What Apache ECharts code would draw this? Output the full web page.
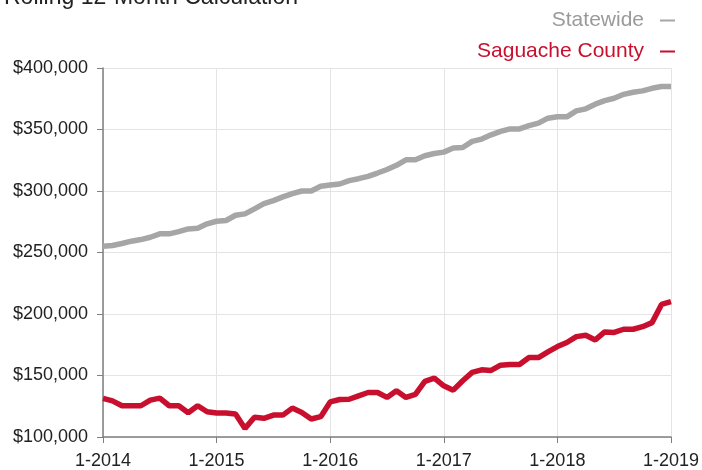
<!DOCTYPE html>
<html>
<head>
<meta charset="utf-8">
<script src="https://cdn.jsdelivr.net/npm/echarts@6/dist/echarts.min.js"></script>
<style>
html,body{margin:0;padding:0;background:#fff;}
#chart{width:702px;height:470px;}
</style>
</head>
<body>
<div id="chart"></div>
<script>
const titleText = "Rolling 12-Month Calculation";
const seriesNames = ["Statewide", "Saguache County"];
const categories = [
 "1-2014","2-2014","3-2014","4-2014","5-2014","6-2014","7-2014","8-2014","9-2014","10-2014","11-2014","12-2014",
 "1-2015","2-2015","3-2015","4-2015","5-2015","6-2015","7-2015","8-2015","9-2015","10-2015","11-2015","12-2015",
 "1-2016","2-2016","3-2016","4-2016","5-2016","6-2016","7-2016","8-2016","9-2016","10-2016","11-2016","12-2016",
 "1-2017","2-2017","3-2017","4-2017","5-2017","6-2017","7-2017","8-2017","9-2017","10-2017","11-2017","12-2017",
 "1-2018","2-2018","3-2018","4-2018","5-2018","6-2018","7-2018","8-2018","9-2018","10-2018","11-2018","12-2018",
 "1-2019"
];
const statewide = [
 255100,255700,257300,259200,260500,262400,265200,265200,267000,269200,
 269700,273300,275400,276000,280300,281400,285500,289700,292200,295200,
 297800,300000,300000,303800,304900,305700,308400,310000,311900,314600,
 317500,320900,325400,325400,328700,330500,331600,334900,335400,340300,
 342200,345700,348400,350500,350500,353200,355200,359200,360300,360300,
 365100,366800,370600,373500,375400,378600,380300,381400,383500,384900,
 384900
];
const saguache = [
 131400,129400,125400,125400,125400,130000,131600,125400,125400,119700,
 125400,120500,119500,119500,118700,107000,116000,115200,117800,117800,
 123500,120000,114600,116500,128500,130500,130700,133500,136200,136200,
 132200,137600,132200,134600,145200,147800,141600,138100,145700,152500,
 154600,154100,158400,158900,158900,164600,164600,169200,173500,176800,
 181600,182700,178900,185400,185000,187600,187600,189700,193000,207800,
 210000
];
const yMin = 100000, yMax = 400000, yStep = 50000;

const grayColor = "#a6a6a6";
const redColor = "#c8102e";
const fontFam = "'Liberation Sans', Arial, Helvetica, sans-serif";

const chart = echarts.init(document.getElementById('chart'), null, {renderer:'canvas'});
chart.setOption({
  animation: false,
  backgroundColor: '#ffffff',
  textStyle: { fontFamily: fontFam },
  title: {
    text: titleText,
    left: -1, top: -19,
    textStyle: { fontSize: 23, fontWeight: 'normal', color: '#222', fontFamily: fontFam }
  },
  legend: {
    orient: 'vertical',
    right: 22, top: 5,
    align: 'right',
    itemWidth: 15, itemHeight: 2,
    itemGap: 10,
    icon: 'rect',
    data: [
      { name: seriesNames[0], textStyle: { color: '#9a9a9a' } },
      { name: seriesNames[1], textStyle: { color: redColor } }
    ],
    textStyle: { fontSize: 21, fontFamily: fontFam, padding: [0, 11, 0, 0] }
  },
  grid: { left: 103, right: 31, top: 68, bottom: 32, containLabel: false },
  xAxis: {
    type: 'category',
    data: categories,
    boundaryGap: false,
    axisLine: { show: true, lineStyle: { color: '#7f7f7f', width: 1.5 } },
    axisTick: { show: true, interval: 11, length: 6, lineStyle: { color: '#7f7f7f' } },
    axisLabel: { interval: 11, fontSize: 18, color: '#222', margin: 15, fontFamily: fontFam },
    splitLine: { show: true, interval: 11, lineStyle: { color: '#e4e4e4', width: 1 } }
  },
  yAxis: {
    type: 'value',
    min: yMin, max: yMax, interval: yStep,
    axisLine: { show: true, lineStyle: { color: '#7f7f7f', width: 1.5 } },
    axisTick: { show: true, length: 6, lineStyle: { color: '#7f7f7f' } },
    axisLabel: {
      fontSize: 18, color: '#222', margin: 15, fontFamily: fontFam,
      formatter: v => '$' + v.toLocaleString('en-US')
    },
    splitLine: { show: true, lineStyle: { color: '#e4e4e4', width: 1 } }
  },
  series: [
    { name: seriesNames[0], type: 'line', data: statewide, showSymbol: false, symbol: 'none',
      lineStyle: { color: grayColor, width: 5.5 }, itemStyle: { color: grayColor } },
    { name: seriesNames[1], type: 'line', data: saguache, showSymbol: false, symbol: 'none',
      lineStyle: { color: redColor, width: 5.5 }, itemStyle: { color: redColor } }
  ]
});
</script>
</body>
</html>
